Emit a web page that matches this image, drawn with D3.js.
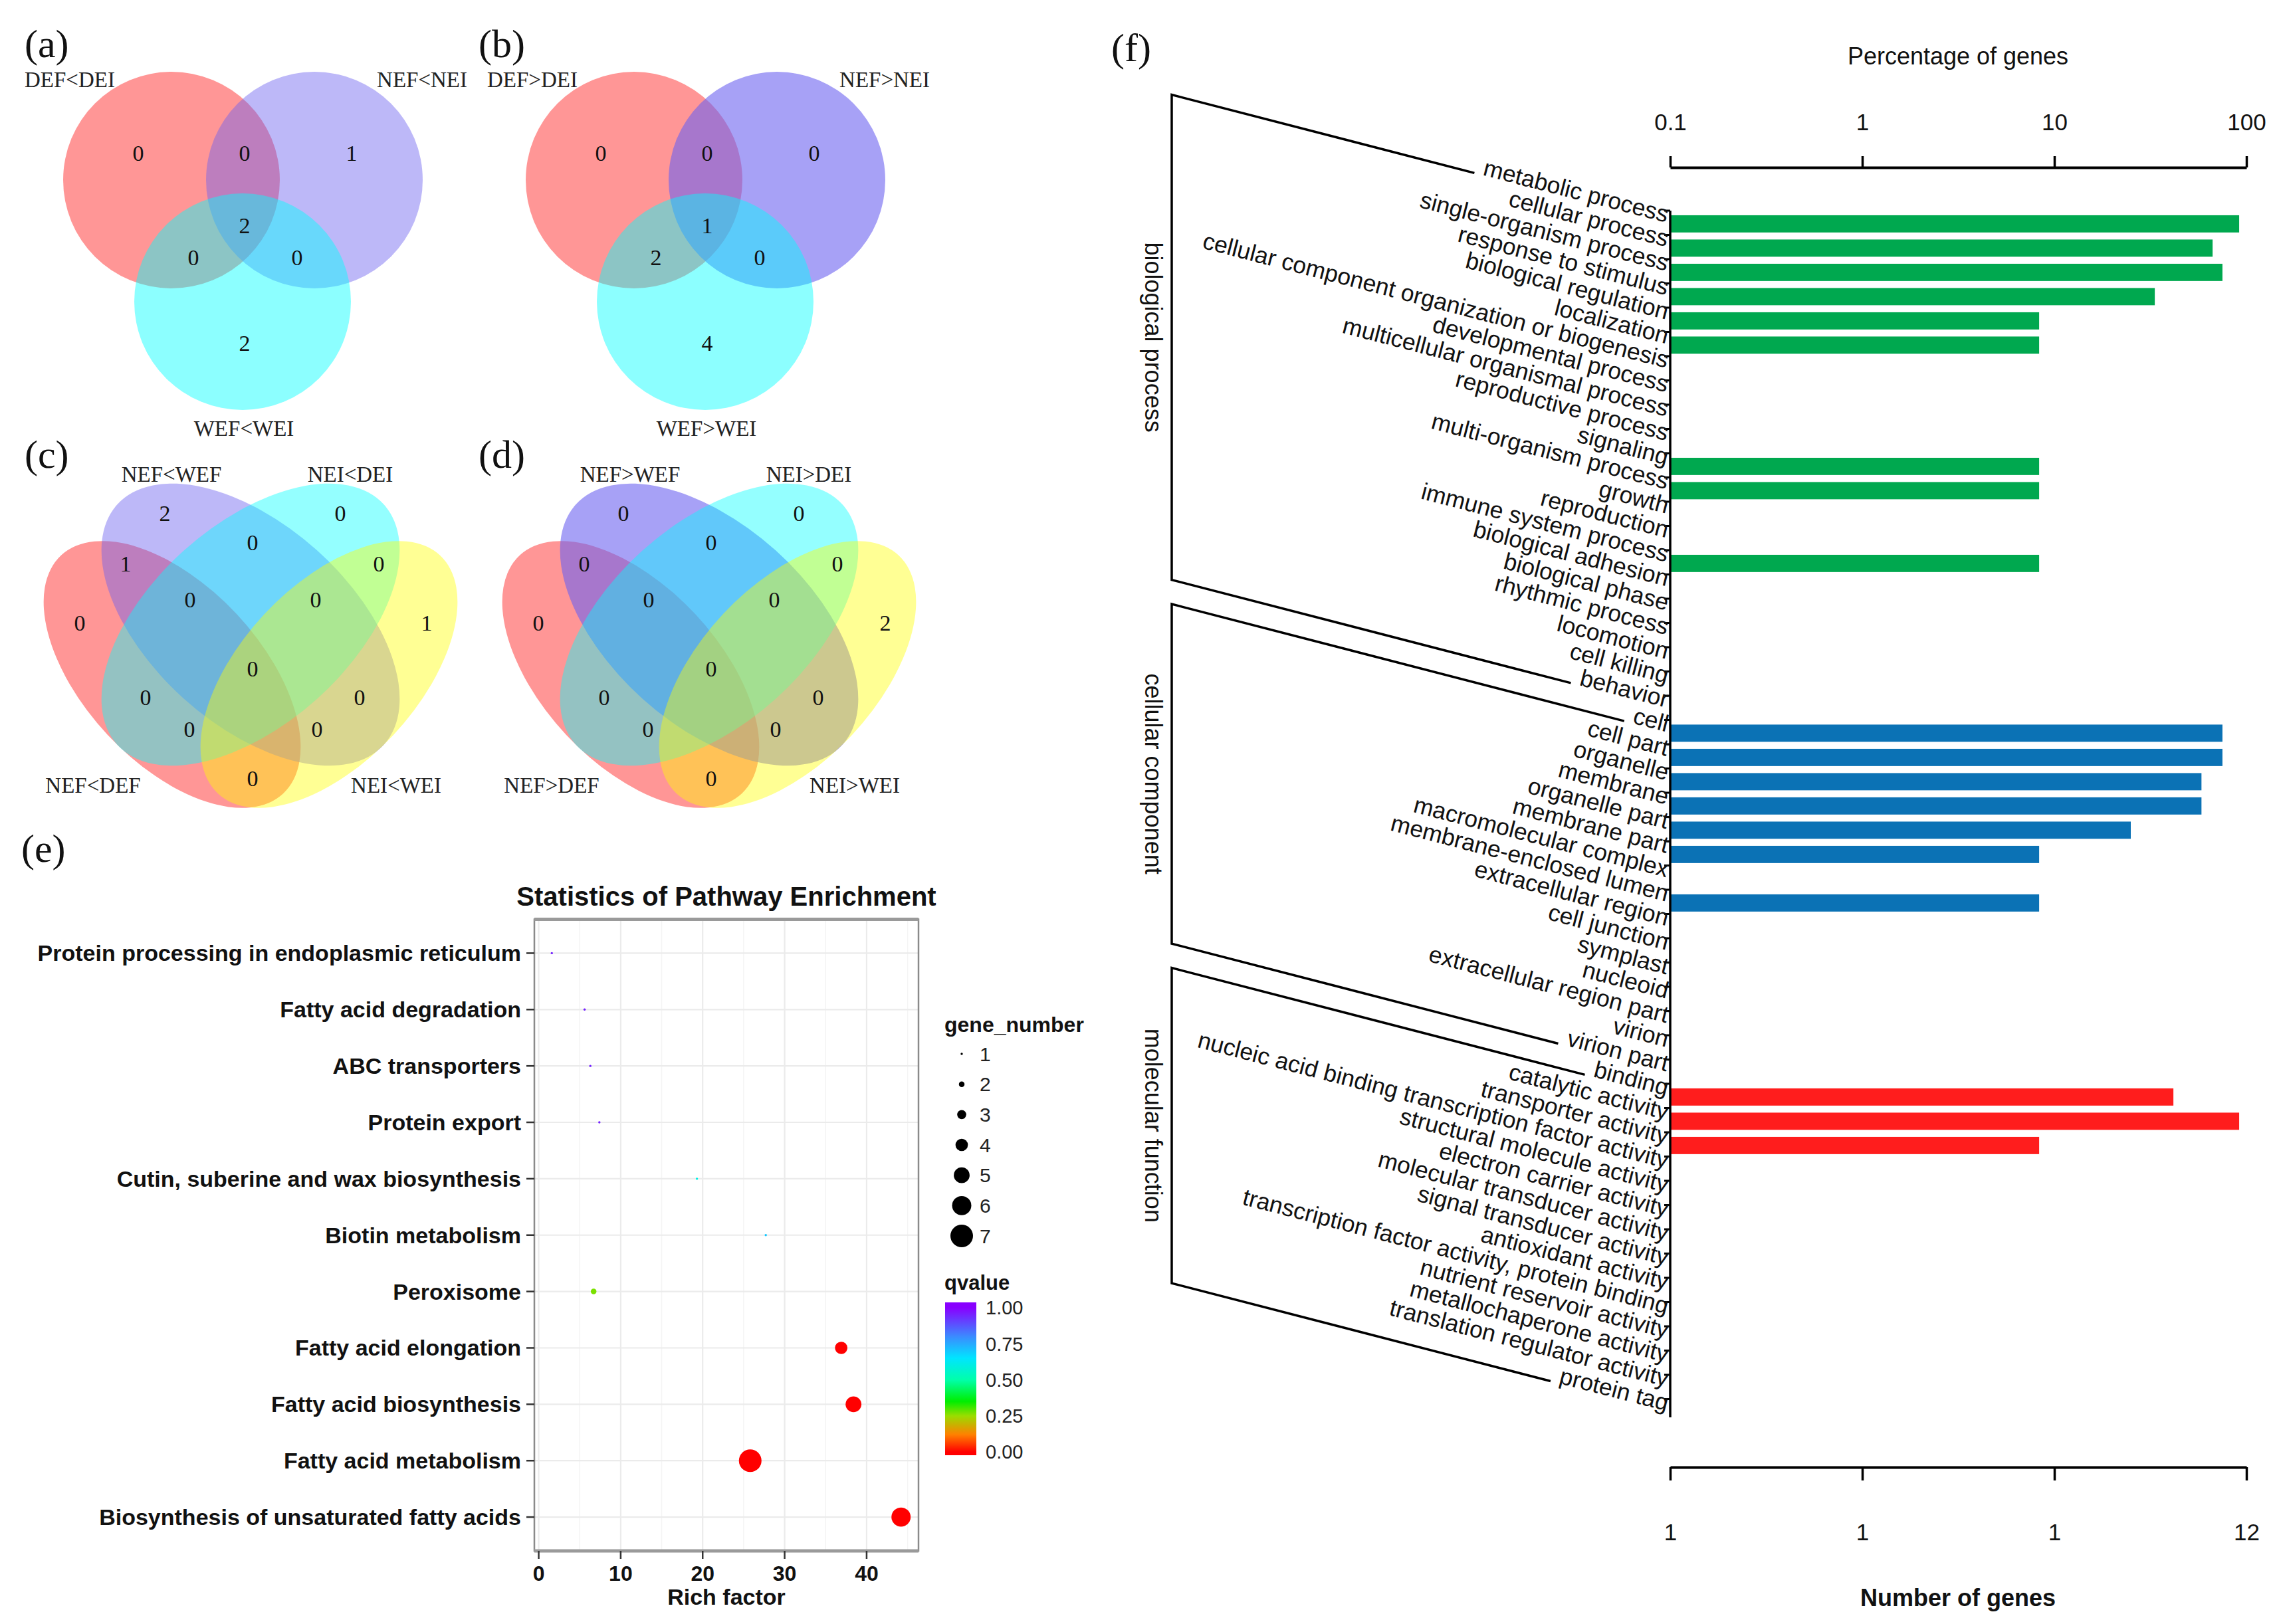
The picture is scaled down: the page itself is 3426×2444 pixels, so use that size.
<!DOCTYPE html>
<html><head><meta charset="utf-8">
<script src="https://cdn.jsdelivr.net/npm/d3@7"></script>
<style>html,body{margin:0;padding:0;background:#fff;} svg{display:block;}</style>
</head><body>
<svg id="chart" width="3426" height="2444"></svg>
<script>
// ================= DATA =================
// Venn (a),(b): regions order: A only, A∩B, B only, A∩B∩C, A∩C, B∩C, C only
const vennA_sets = ["DEF<DEI", "NEF<NEI", "WEF<WEI"];
const vennA_counts = [0, 0, 1, 2, 0, 0, 2];
const vennB_sets = ["DEF>DEI", "NEF>NEI", "WEF>WEI"];
const vennB_counts = [0, 0, 0, 1, 2, 0, 4];
// Venn (c),(d): sets order [R, P, C, Y]
// regions order: P, C, PC, RP, CY, R, Y, RPC, PCY, RPCY, RC, PY, RCY, RPY, RY
const vennC_sets = ["NEF<DEF", "NEF<WEF", "NEI<DEI", "NEI<WEI"];
const vennC_counts = [2, 0, 0, 1, 0, 0, 1, 0, 0, 0, 0, 0, 0, 0, 0];
const vennD_sets = ["NEF>DEF", "NEF>WEF", "NEI>DEI", "NEI>WEI"];
const vennD_counts = [0, 0, 0, 0, 0, 0, 2, 0, 0, 0, 0, 0, 0, 0, 0];

// (e) pathway enrichment
const pathways = ["Protein processing in endoplasmic reticulum", "Fatty acid degradation", "ABC transporters",
  "Protein export", "Cutin, suberine and wax biosynthesis", "Biotin metabolism", "Peroxisome",
  "Fatty acid elongation", "Fatty acid biosynthesis", "Fatty acid metabolism",
  "Biosynthesis of unsaturated fatty acids"];
const richFactor = [1.6, 5.6, 6.3, 7.4, 19.3, 27.7, 6.7, 36.9, 38.4, 25.8, 44.2];
const geneNumber = [1, 1, 1, 1, 1, 1, 2, 4, 5, 7, 6];
const qvalue = [0.95, 0.95, 0.95, 0.95, 0.6, 0.7, 0.27, 0.0, 0.0, 0.0, 0.0];
const richTicks = [0, 10, 20, 30, 40];
const geneLegend = [1, 2, 3, 4, 5, 6, 7];
const qTicks = [0, 0.25, 0.5, 0.75, 1];

// (f) GO classification
const goBP = ["metabolic process", "cellular process", "single-organism process", "response to stimulus",
  "biological regulation", "localization", "cellular component organization or biogenesis",
  "developmental process", "multicellular organismal process", "reproductive process", "signaling",
  "multi-organism process", "growth", "reproduction", "immune system process", "biological adhesion",
  "biological phase", "rhythmic process", "locomotion", "cell killing", "behavior"];
const goBPCount = [11, 8, 9, 4, 1, 1, 0, 0, 0, 0, 1, 1, 0, 0, 1, 0, 0, 0, 0, 0, 0];
const goCC = ["cell", "cell part", "organelle", "membrane", "organelle part", "membrane part",
  "macromolecular complex", "membrane-enclosed lumen", "extracellular region", "cell junction",
  "symplast", "nucleoid", "extracellular region part", "virion", "virion part"];
const goCCCount = [9, 9, 7, 7, 3, 1, 0, 1, 0, 0, 0, 0, 0, 0, 0];
const goMF = ["binding", "catalytic activity", "transporter activity",
  "nucleic acid binding transcription factor activity", "structural molecule activity",
  "electron carrier activity", "molecular transducer activity", "signal transducer activity",
  "antioxidant activity", "transcription factor activity, protein binding", "nutrient reservoir activity",
  "metallochaperone activity", "translation regulator activity", "protein tag"];
const goMFCount = [5, 11, 1, 0, 0, 0, 0, 0, 0, 0, 0, 0, 0, 0];
const goGroups = ["biological process", "cellular component", "molecular function"];
const goTotal = 12;
const pctTicks = [0.1, 1, 10, 100];
const numTickLabels = ["1", "1", "1", "12"];

// ================= DRAW =================
const svg = d3.select("#chart");
const SERIF = "'Liberation Serif','Times New Roman',serif";
const SANS = "'Liberation Sans',Arial,Helvetica,sans-serif";
svg.append("rect").attr("width", 3426).attr("height", 2444).attr("fill", "#fff");

// panel letters
[["(a)", 37, 86], ["(b)", 720, 86], ["(c)", 37, 704], ["(d)", 720, 704], ["(e)", 32, 1297], ["(f)", 1672, 92]]
  .forEach(([t, x, y]) => svg.append("text").attr("x", x).attr("y", y).text(t)
    .attr("font-family", SERIF).attr("font-size", 60).attr("fill", "#111"));

// ---------- Venn 3 ----------
const venn3 = {
  circles: [{ cx: 258, cy: 271, fill: "#ff0000", op: 0.41 }, { cx: 473, cy: 271, fill: "#6c62f0", op: null },
            { cx: 365, cy: 454, fill: "#00ffff", op: 0.45 }],
  r: 163,
  regions: [[208, 230], [368, 230], [529, 230], [368, 339], [291, 387], [447, 387], [368, 516]],
  labels: [{ x: 37, y: 131, a: "start" }, { x: 703, y: 131, a: "end" }, { x: 367, y: 656, a: "middle" }]
};
function drawVenn3(dx, sets, counts, blueOp) {
  const g = svg.append("g").attr("transform", `translate(${dx},0)`);
  g.selectAll("circle").data(venn3.circles).join("circle")
    .attr("cx", d => d.cx).attr("cy", d => d.cy).attr("r", venn3.r)
    .attr("fill", d => d.fill).attr("fill-opacity", d => d.op == null ? blueOp : d.op);
  g.selectAll("text.lab").data(sets).join("text").attr("class", "lab")
    .attr("x", (d, i) => venn3.labels[i].x).attr("y", (d, i) => venn3.labels[i].y)
    .attr("text-anchor", (d, i) => venn3.labels[i].a)
    .attr("font-family", SERIF).attr("font-size", 33).attr("fill", "#222").text(d => d);
  g.selectAll("text.num").data(counts).join("text").attr("class", "num")
    .attr("x", (d, i) => venn3.regions[i][0]).attr("y", (d, i) => venn3.regions[i][1])
    .attr("text-anchor", "middle").attr("dominant-baseline", "central")
    .attr("font-family", SERIF).attr("font-size", 34).attr("fill", "#111").text(d => d);
}
drawVenn3(0, vennA_sets, vennA_counts, 0.45);
drawVenn3(696, vennB_sets, vennB_counts, 0.6);

// ---------- Venn 4 ----------
const venn4 = {
  ellipses: [
    { cx: 259, cy: 1015, rx: 245, ry: 133, rot: 47, fill: "#ff0000", op: 0.41 },
    { cx: 377, cy: 940, rx: 270, ry: 150, rot: 42, fill: "#6c62f0", op: null },
    { cx: 377, cy: 940, rx: 270, ry: 150, rot: -42, fill: "#00ffff", op: 0.42 },
    { cx: 495, cy: 1015, rx: 245, ry: 133, rot: -47, fill: "#ffff00", op: 0.42 }],
  regions: [[248, 772], [512, 772], [380, 816], [189, 848], [570, 848], [120, 937], [642, 937], [286, 902],
            [475, 902], [380, 1006], [219, 1049], [541, 1049], [285, 1097], [477, 1097], [380, 1171]],
  labels: [{ x: 140, y: 1193 }, { x: 258, y: 725 }, { x: 527, y: 725 }, { x: 596, y: 1193 }]
};
function drawVenn4(dx, sets, counts, purpleOp) {
  const g = svg.append("g").attr("transform", `translate(${dx},0)`);
  g.selectAll("ellipse").data(venn4.ellipses).join("ellipse")
    .attr("cx", d => d.cx).attr("cy", d => d.cy).attr("rx", d => d.rx).attr("ry", d => d.ry)
    .attr("transform", d => `rotate(${d.rot},${d.cx},${d.cy})`)
    .attr("fill", d => d.fill).attr("fill-opacity", d => d.op == null ? purpleOp : d.op);
  g.selectAll("text.lab").data(sets).join("text").attr("class", "lab")
    .attr("x", (d, i) => venn4.labels[i].x).attr("y", (d, i) => venn4.labels[i].y)
    .attr("text-anchor", "middle")
    .attr("font-family", SERIF).attr("font-size", 33).attr("fill", "#222").text(d => d);
  g.selectAll("text.num").data(counts).join("text").attr("class", "num")
    .attr("x", (d, i) => venn4.regions[i][0]).attr("y", (d, i) => venn4.regions[i][1])
    .attr("text-anchor", "middle").attr("dominant-baseline", "central")
    .attr("font-family", SERIF).attr("font-size", 34).attr("fill", "#111").text(d => d);
}
drawVenn4(0, vennC_sets, vennC_counts, 0.45);
drawVenn4(690, vennD_sets, vennD_counts, 0.6);

// ---------- (e) Pathway enrichment ----------
(function () {
  const P = { l: 804, r: 1382, t: 1383.5, b: 2334 };
  const ext = d3.extent(richFactor), pad = 0.05 * (ext[1] - ext[0]);
  const x = d3.scaleLinear().domain([ext[0] - pad, ext[1] + pad]).range([P.l, P.r]);
  const y = d3.scalePoint().domain(pathways).range([P.t, P.b]).padding(0.6);
  const rScale = d3.scaleLinear().domain([1, 7]).range([1.7, 17]);
  const qStops = [0, 0.12, 0.25, 0.35, 0.5, 0.65, 0.8, 1];
  const qCols = ["#ff0000", "#ff8000", "#99dd00", "#00ee00", "#00ffaa", "#00e5ff", "#3b8bff", "#8800ff"];
  const col = d3.scaleLinear().domain(qStops).range(qCols);
  const g = svg.append("g");
  g.append("rect").attr("x", P.l).attr("y", P.t).attr("width", P.r - P.l).attr("height", P.b - P.t).attr("fill", "#fff");
  const minor = [5, 15, 25, 35, 45].filter(v => x(v) < P.r);
  g.selectAll("line.mn").data(minor).join("line").attr("class", "mn")
    .attr("x1", d => x(d)).attr("x2", d => x(d)).attr("y1", P.t).attr("y2", P.b)
    .attr("stroke", "#f4f4f4").attr("stroke-width", 1.5);
  g.selectAll("line.mj").data(richTicks).join("line").attr("class", "mj")
    .attr("x1", d => x(d)).attr("x2", d => x(d)).attr("y1", P.t).attr("y2", P.b)
    .attr("stroke", "#ebebeb").attr("stroke-width", 2.2);
  g.selectAll("line.hy").data(pathways).join("line").attr("class", "hy")
    .attr("x1", P.l).attr("x2", P.r).attr("y1", d => y(d)).attr("y2", d => y(d))
    .attr("stroke", "#ebebeb").attr("stroke-width", 2.2);
  g.append("rect").attr("x", P.l).attr("y", P.t).attr("width", P.r - P.l).attr("height", P.b - P.t)
    .attr("fill", "none").attr("stroke", "#8a8a8a").attr("stroke-width", 2.5);
  g.append("line").attr("x1", P.l).attr("x2", P.r).attr("y1", P.t).attr("y2", P.t).attr("stroke", "#9a9a9a").attr("stroke-width", 5);
  g.append("line").attr("x1", P.l).attr("x2", P.r).attr("y1", P.b).attr("y2", P.b).attr("stroke", "#9a9a9a").attr("stroke-width", 5);
  // points
  g.selectAll("circle.pt").data(pathways).join("circle").attr("class", "pt")
    .attr("cx", (d, i) => x(richFactor[i])).attr("cy", d => y(d))
    .attr("r", (d, i) => rScale(geneNumber[i])).attr("fill", (d, i) => col(qvalue[i]));
  // y axis
  g.selectAll("line.yt").data(pathways).join("line").attr("class", "yt")
    .attr("x1", P.l - 12).attr("x2", P.l).attr("y1", d => y(d)).attr("y2", d => y(d))
    .attr("stroke", "#333").attr("stroke-width", 2.5);
  g.selectAll("text.yl").data(pathways).join("text").attr("class", "yl")
    .attr("x", P.l - 20).attr("y", d => y(d)).attr("dy", "0.35em").attr("text-anchor", "end")
    .attr("font-family", SANS).attr("font-weight", "bold").attr("font-size", 34).attr("fill", "#111").text(d => d);
  // x axis
  g.selectAll("line.xt").data(richTicks).join("line").attr("class", "xt")
    .attr("x1", d => x(d)).attr("x2", d => x(d)).attr("y1", P.b).attr("y2", P.b + 12)
    .attr("stroke", "#333").attr("stroke-width", 2.5);
  g.selectAll("text.xl").data(richTicks).join("text").attr("class", "xl")
    .attr("x", d => x(d)).attr("y", P.b + 45).attr("text-anchor", "middle")
    .attr("font-family", SANS).attr("font-weight", "bold").attr("font-size", 32).attr("fill", "#111").text(d => d);
  g.append("text").attr("x", (P.l + P.r) / 2).attr("y", P.b + 81).attr("text-anchor", "middle")
    .attr("font-family", SANS).attr("font-weight", "bold").attr("font-size", 34).attr("fill", "#111").text("Rich factor");
  g.append("text").attr("x", (P.l + P.r) / 2).attr("y", 1363).attr("text-anchor", "middle")
    .attr("font-family", SANS).attr("font-weight", "bold").attr("font-size", 40).attr("fill", "#111")
    .text("Statistics of Pathway Enrichment");
  // size legend
  const L = svg.append("g");
  L.append("text").attr("x", 1421).attr("y", 1553).attr("font-family", SANS).attr("font-weight", "bold")
    .attr("font-size", 32).attr("fill", "#111").text("gene_number");
  const ly = d3.scalePoint().domain(geneLegend).range([1586, 1860]);
  L.selectAll("circle").data(geneLegend).join("circle").attr("cx", 1447).attr("cy", d => ly(d))
    .attr("r", d => rScale(d)).attr("fill", "#000");
  L.selectAll("text.gl").data(geneLegend).join("text").attr("class", "gl")
    .attr("x", 1474).attr("y", d => ly(d)).attr("dy", "0.36em")
    .attr("font-family", SANS).attr("font-size", 30).attr("fill", "#222").text(d => d);
  // colour bar
  L.append("text").attr("x", 1421).attr("y", 1941).attr("font-family", SANS).attr("font-weight", "bold")
    .attr("font-size", 31).attr("fill", "#111").text("qvalue");
  const qy = d3.scaleLinear().domain([0, 1]).range([2185, 1968]);
  const grad = svg.append("defs").append("linearGradient").attr("id", "qgrad")
    .attr("gradientUnits", "userSpaceOnUse").attr("x1", 0).attr("x2", 0).attr("y1", qy(0)).attr("y2", qy(1));
  grad.selectAll("stop").data(qStops).join("stop").attr("offset", d => d).attr("stop-color", d => col(d));
  L.append("rect").attr("x", 1422).attr("y", 1960).attr("width", 47).attr("height", 230).attr("fill", "url(#qgrad)");
  L.selectAll("text.ql").data(qTicks).join("text").attr("class", "ql")
    .attr("x", 1483).attr("y", d => qy(d)).attr("dy", "0.36em")
    .attr("font-family", SANS).attr("font-size", 29).attr("fill", "#222").text(d => d3.format(".2f")(d));
})();

// ---------- (f) GO classification ----------
(function () {
  const AX = 2513, angle = 14.5, rad = angle * Math.PI / 180;
  const groups = [
    { name: goGroups[0], cats: goBP, counts: goBPCount, color: "#00a84f" },
    { name: goGroups[1], cats: goCC, counts: goCCCount, color: "#0b72b5" },
    { name: goGroups[2], cats: goMF, counts: goMFCount, color: "#ff1d1d" }];
  const all = [];
  groups.forEach(gr => gr.cats.forEach((c, i) => all.push({ cat: c, count: gr.counts[i], group: gr })));
  const step = 36.5;
  const y = d3.scaleBand().domain(all.map(d => d.cat)).range([317, 317 + step * all.length]);
  const x = d3.scaleLog().domain([0.1, 100]).range([AX, 3380]);
  const g = svg.append("g");
  // bars
  g.selectAll("rect.bar").data(all.filter(d => d.count > 0)).join("rect").attr("class", "bar")
    .attr("x", AX).attr("y", d => y(d.cat) + y.step() * 0.19)
    .attr("width", d => x(d.count / goTotal * 100) - AX).attr("height", y.step() * 0.71)
    .attr("fill", d => d.group.color);
  // category axis
  g.append("line").attr("x1", AX).attr("x2", AX).attr("y1", y(all[0].cat))
    .attr("y2", y(all[all.length - 1].cat) + step * 0.75).attr("stroke", "#000").attr("stroke-width", 3.5);
  g.selectAll("line.ct").data(all).join("line").attr("class", "ct")
    .attr("x1", AX - 9).attr("x2", AX).attr("y1", d => y(d.cat)).attr("y2", d => y(d.cat))
    .attr("stroke", "#000").attr("stroke-width", 3);
  const labs = g.selectAll("text.cl").data(all).join("text").attr("class", "cl")
    .attr("transform", d => `translate(${AX - 6},${y(d.cat) + 18}) rotate(${angle})`)
    .attr("text-anchor", "end").attr("font-family", SANS).attr("font-size", 35.5).attr("fill", "#111")
    .text(d => d.cat);
  const lens = {};
  labs.each(function (d) { lens[d.cat] = this.getComputedTextLength(); });
  // brackets
  const BX = 1763, gap = 12;
  groups.forEach(gr => {
    const ends = [gr.cats[0], gr.cats[gr.cats.length - 1]].map(c => {
      const L = lens[c] + gap;
      const ex = AX - 6 - L * Math.cos(rad), ey = y(c) + 18 - L * Math.sin(rad);
      return { ex, ey, cy: ey - (ex - BX) * Math.tan(rad) };
    });
    const path = `M${ends[0].ex},${ends[0].ey} L${BX},${ends[0].cy} L${BX},${ends[1].cy} L${ends[1].ex},${ends[1].ey}`;
    g.append("path").attr("d", path).attr("fill", "none").attr("stroke", "#000").attr("stroke-width", 3.5)
      .attr("stroke-linejoin", "miter");
    const mid = (ends[0].cy + ends[1].cy) / 2;
    g.append("text").attr("transform", `translate(1723,${mid}) rotate(90)`).attr("text-anchor", "middle")
      .attr("font-family", SANS).attr("font-size", 36).attr("fill", "#111").text(gr.name);
  });
  // top axis
  const top = g.append("g").attr("transform", "translate(0,252)")
    .call(d3.axisTop(x).tickValues(pctTicks).tickFormat(d => String(d)).tickSize(17).tickSizeOuter(0).tickPadding(39));
  top.select(".domain").attr("stroke-width", 4);
  top.selectAll(".tick line").attr("stroke-width", 3.5);
  top.selectAll(".tick text").attr("font-family", SANS).attr("font-size", 35).attr("fill", "#111");
  g.append("text").attr("x", 2946).attr("y", 97).attr("text-anchor", "middle").attr("font-family", SANS)
    .attr("font-size", 36).attr("fill", "#111").text("Percentage of genes");
  // bottom axis
  const bot = g.append("g").attr("transform", "translate(0,2208)")
    .call(d3.axisBottom(x).tickValues(pctTicks).tickFormat((d, i) => numTickLabels[i]).tickSize(20).tickSizeOuter(0).tickPadding(65));
  bot.select(".domain").attr("stroke-width", 4);
  bot.selectAll(".tick line").attr("stroke-width", 3.5);
  bot.selectAll(".tick text").attr("font-family", SANS).attr("font-size", 35).attr("fill", "#111");
  g.append("text").attr("x", 2946).attr("y", 2417).attr("text-anchor", "middle").attr("font-family", SANS)
    .attr("font-weight", "bold").attr("font-size", 36).attr("fill", "#111").text("Number of genes");
})();
</script>
</body></html>
